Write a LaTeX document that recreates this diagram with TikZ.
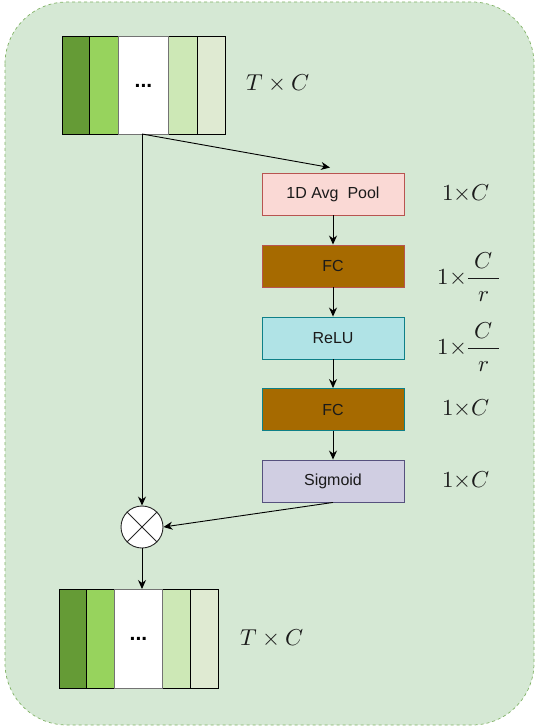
\documentclass[tikz,border=0pt]{standalone}
\usepackage{fontspec}
\setsansfont{Liberation Sans}
\usepackage{unicode-math}
\setmathfont{Latin Modern Math}
\usetikzlibrary{arrows.meta}
\definecolor{bgfill}{HTML}{D5E8D4}
\definecolor{bgline}{HTML}{82B366}
\definecolor{c1}{HTML}{659B36}
\definecolor{c2}{HTML}{97D35D}
\definecolor{c4}{HTML}{CDE8B6}
\definecolor{c5}{HTML}{DFEAD2}
\definecolor{poolfill}{HTML}{FAD9D5}
\definecolor{poolline}{HTML}{B85450}
\definecolor{fcfill}{HTML}{A66A00}
\definecolor{relufill}{HTML}{B0E3E6}
\definecolor{teal}{HTML}{0E8088}
\definecolor{sigfill}{HTML}{D0CEE2}
\definecolor{sigline}{HTML}{56517E}
\definecolor{txt}{HTML}{1A1A1A}
\newcommand{\fracCr}{\dfrac{\mkern5mu C\mkern5mu\vrule width0pt depth 6pt}{\vrule width0pt height 20pt r}}
\tikzset{
  col/.style={draw=black, line width=0.9pt},
  midcol/.style={draw=black!55, line width=0.9pt, fill=white, inner sep=0pt, anchor=north west, font=\sffamily\bfseries\fontsize{21}{21}\selectfont},
  opbox/.style={minimum width=142pt, minimum height=42pt, inner sep=0pt, text=txt, font=\sffamily\fontsize{16}{18}\selectfont, line width=0.9pt},
  dimlab/.style={font=\fontsize{23}{26}\selectfont, inner sep=0pt, text=txt},
  arr/.style={-{Stealth[length=9pt,width=8pt]}, line width=0.9pt, black},
}
\begin{document}
\begin{tikzpicture}[x=1pt,y=-1pt]
\useasboundingbox (0,0) rectangle (536,727);
\draw[fill=bgfill, draw=bgline, dashed, line width=0.7pt, rounded corners=62pt] (5,2) rectangle (534,725);
% top block
\filldraw[col, fill=c1] (62,36) rectangle (89,134);
\filldraw[col, fill=c2] (89,36) rectangle (118,134);
\filldraw[col, fill=c4] (168,36) rectangle (197,134);
\filldraw[col, fill=c5] (197,36) rectangle (225,134);
\node[midcol, minimum width=50pt, minimum height=98pt] (top) at (118,36) {...};
\node[dimlab] (toplab) at (278,83) {$T\times C$};
% bottom block
\filldraw[col, fill=c1] (59,589) rectangle (86,688);
\filldraw[col, fill=c2] (86,589) rectangle (114,688);
\filldraw[col, fill=c4] (162,589) rectangle (190,688);
\filldraw[col, fill=c5] (190,589) rectangle (218,688);
\node[midcol, minimum width=48pt, minimum height=99pt] (bot) at (114,589) {...};
\node[dimlab] (botlab) at (272,638) {$T\times C$};
% ops
\node[opbox, draw=poolline, fill=poolfill] (pool) at (333,194) {1D Avg\ \ Pool};
\node[opbox, draw=poolline, fill=fcfill] (fc1) at (333,266) {FC};
\node[opbox, draw=teal, fill=relufill] (relu) at (333,338) {ReLU};
\node[opbox, draw=teal, fill=fcfill] (fc2) at (333,409.5) {FC};
\node[opbox, draw=sigline, fill=sigfill] (sig) at (333,481) {Sigmoid};
\node[dimlab] (l1) at (466,193) {$1{\times}C$};
\node[dimlab] (l2) at (469,277) {$1{\times}\fracCr$};
\node[dimlab] (l3) at (469,347) {$1{\times}\fracCr$};
\node[dimlab] (l4) at (466,408) {$1{\times}C$};
\node[dimlab] (l5) at (466,480) {$1{\times}C$};
% multiply
\node[circle, draw=black!85, fill=white, minimum size=42pt, inner sep=0pt, line width=0.9pt] (mulc) at (142,527) {};
\draw[black!85, line width=0.9pt] (mulc.north west) -- (mulc.south east) (mulc.north east) -- (mulc.south west);
\coordinate (split) at (142,134);
\draw[arr] (split) -- (mulc.north);
\draw[arr] (split) -- ([xshift=-3pt,yshift=5pt]pool.north);
\draw[arr] (pool) -- (fc1);
\draw[arr] (fc1) -- (relu);
\draw[arr] (relu) -- (fc2);
\draw[arr] (fc2) -- (sig);
\draw[arr] (sig.south) -- (mulc.east);
\draw[arr] (mulc.south) -- (bot.north -| mulc.south);
\end{tikzpicture}
\end{document}
